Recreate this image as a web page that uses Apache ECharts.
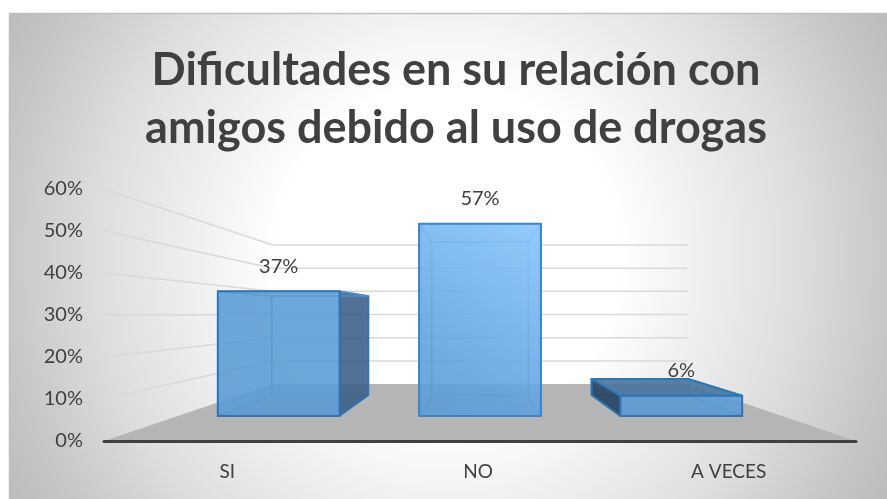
<!DOCTYPE html>
<html><head><meta charset="utf-8">
<style>html,body{margin:0;padding:0;background:#fff}#c{width:887px;height:499px}</style>
<script src="https://cdn.jsdelivr.net/npm/echarts@6/dist/echarts.min.js"></script>
</head><body><div id="c"></div>
<script>
const titleText = 'Dificultades en su relación con\namigos debido al uso de drogas';
const categories = ['SI', 'NO', 'A VECES'];
const values = [0.37, 0.57, 0.06];
const yTicks = [0.1, 0.2, 0.3, 0.4, 0.5, 0.6];

const FONT = 'Lato, sans-serif';
const S_BAR_FRONT = 0.803, S_BAR_BACK = 0.638, S_WALL = 0.552;
const BAR_FILL = 0.605;

const chart = echarts.init(document.getElementById('c'), null, {renderer: 'canvas'});

function projector(api, params) {
  const g = params.coordSys;
  const vx = g.x + g.width / 2;
  const vy = api.coord([0, 0.3])[1] - 1;
  return (X, Y, s) => [vx + (X - vx) * s, vy + (Y - vy) * s];
}

function renderFloor(params, api) {
  const P = projector(api, params), g = params.coordSys;
  const y0 = api.coord([0, 0])[1], l = g.x, r = g.x + g.width;
  return {type: 'polygon', shape: {points: [P(l, y0, 1), P(l, y0, S_WALL), P(r, y0, S_WALL), P(r, y0, 1)]},
    style: {fill: '#b5b5b5'}};
}

function renderGrid(params, api) {
  const P = projector(api, params), g = params.coordSys;
  const y = api.coord([0, api.value(1)])[1], l = g.x, r = g.x + g.width;
  return {type: 'polyline', shape: {points: [P(l, y, 1), P(l, y, S_WALL), P(r, y, S_WALL)]},
    style: {fill: null, stroke: '#d9d9d9', lineWidth: 1.5}};
}

function renderBar(params, api) {
  const P = projector(api, params), g = params.coordSys;
  const vx = g.x + g.width / 2;
  const vy = api.coord([0, 0.3])[1] - 1;
  const i = api.value(0), v = api.value(1);
  const cx = api.coord([i, 0])[0], y0 = api.coord([i, 0])[1], yt = api.coord([i, v])[1];
  const hw = api.size([1, 0])[0] * BAR_FILL / 2;
  const L = cx - hw, R = cx + hw;
  const f = S_BAR_FRONT, b = S_BAR_BACK;
  const inner = 'rgba(91,155,213,0.75)', edge = '#2e75b6';
  const face = (pts, fill, stroke, w) => ({type: 'polygon', shape: {points: pts},
    style: {fill, stroke, lineWidth: w, lineJoin: 'round'}});
  const tint = 'rgba(91,155,213,0.10)';
  const back = [P(L, yt, b), P(R, yt, b), P(R, y0, b), P(L, y0, b)];
  const bottom = [P(L, y0, b), P(R, y0, b), P(R, y0, f), P(L, y0, f)];
  const left = [P(L, yt, b), P(L, yt, f), P(L, y0, f), P(L, y0, b)];
  const right = [P(R, yt, b), P(R, yt, f), P(R, y0, f), P(R, y0, b)];
  const top = [P(L, yt, b), P(R, yt, b), P(R, yt, f), P(L, yt, f)];
  const front = [P(L, yt, f), P(R, yt, f), P(R, y0, f), P(L, y0, f)];
  const rightOut = R < vx, leftOut = L > vx, topOut = P(L, yt, f)[1] > vy;
  const children = [
    face(back, tint, inner, 1.5),
    face(bottom, 'rgba(70,125,185,0.12)', inner, 1.5),
    face(left, leftOut ? 'rgba(40,70,100,0.93)' : tint, leftOut ? edge : inner, leftOut ? 2 : 1.5),
    face(right, rightOut ? 'rgba(60,95,134,0.88)' : tint, rightOut ? edge : inner, 1.5),
    face(top, topOut ? 'rgba(75,118,160,0.92)' : tint, topOut ? edge : inner, topOut ? 2 : 1.5)
  ];
  const lit = i === 1;
  const fill = lit
    ? new echarts.graphic.LinearGradient(1, 0, 0, 1, [
        {offset: 0, color: 'rgba(140,200,255,0.92)'},
        {offset: 0.75, color: 'rgba(95,160,220,0.88)'},
        {offset: 1, color: 'rgba(91,155,213,0.88)'}])
    : 'rgba(91,155,213,0.88)';
  children.push(face(front, fill, lit ? '#3a84c8' : edge, 2));
  const labelAt = P(cx, yt, f);
  children.push({type: 'text', x: labelAt[0], y: labelAt[1] - 25, z2: 50,
    style: {text: Math.round(v * 100) + '%', font: '20px ' + FONT, fill: '#404040',
      align: 'center', verticalAlign: 'middle'}});
  return {type: 'group', children};
}

chart.setOption({
  animation: false,
  backgroundColor: 'transparent',
  graphic: [
    {type: 'rect', z: -2, silent: true,
     shape: {x: 9, y: 13, width: 878, height: 486},
     style: {fill: new echarts.graphic.RadialGradient(448, 256, 503, [
       {offset: 0, color: '#ffffff'},
       {offset: 0.34, color: '#ffffff'},
       {offset: 0.477, color: '#f2f2f2'},
       {offset: 0.696, color: '#dedede'},
       {offset: 0.875, color: '#c8c8c8'},
       {offset: 1, color: '#bbbbbb'}], true)}},
    {type: 'rect', z: -1, silent: true, shape: {x: 9.5, y: 13.5, width: 900, height: 500},
     style: {fill: null, stroke: '#bfbfbf', lineWidth: 1.5}}
  ],
  title: {
    text: titleText, left: 451, top: 36, textAlign: 'center',
    textStyle: {fontFamily: FONT, fontWeight: 700, fontSize: 45, lineHeight: 58, color: '#404040'}
  },
  grid: {left: 104, right: 31, top: 189, bottom: 58},
  xAxis: {
    type: 'category', data: categories, z: 5,
    axisTick: {show: false},
    axisLine: {lineStyle: {color: '#404040', width: 3, cap: 'round'}},
    axisLabel: {color: '#404040', fontFamily: FONT, fontSize: 19, margin: 21, padding: [0, 4, 0, 0]}
  },
  yAxis: {
    type: 'value', min: 0, max: 0.6, interval: 0.1,
    axisLine: {show: false}, axisTick: {show: false}, splitLine: {show: false},
    axisLabel: {color: '#404040', fontFamily: FONT, fontSize: 20, margin: 21,
      formatter: v => Math.round(v * 100) + '%'}
  },
  series: [
    {type: 'custom', name: 'floor', z: 1, silent: true, renderItem: renderFloor, data: [[0, 0]]},
    {type: 'custom', name: 'grid', z: 1, silent: true, renderItem: renderGrid,
     data: yTicks.map(t => [0, t])},
    {type: 'custom', name: 'bars', z: 3, renderItem: renderBar,
     data: values.map((v, i) => [i, v])}
  ]
});
</script></body></html>
